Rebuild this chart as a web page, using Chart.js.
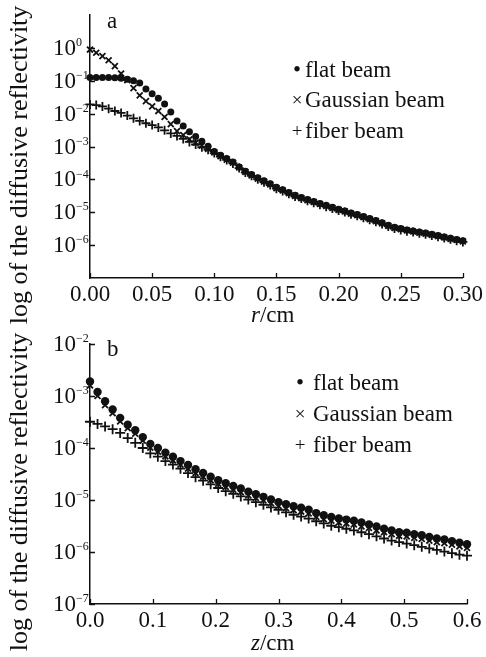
<!DOCTYPE html>
<html>
<head>
<meta charset="utf-8">
<script src="https://cdn.jsdelivr.net/npm/chart.js@4.4.0/dist/chart.umd.min.js"></script>
<style>
body { margin: 0; background: #fff; }
#wrap { position: relative; width: 486px; height: 657px; font-family: "Liberation Serif", serif; color: #111; overflow: hidden; }
canvas { position: absolute; left: 0; }
.t { position: absolute; font-size: 23px; line-height: 24px; white-space: nowrap; }
.mk { position: absolute; line-height: 24px; text-align: center; width: 14px; }
</style>
</head>
<body>
<div id="wrap">
  <canvas id="top" width="486" height="330" style="top:0"></canvas>
  <canvas id="bottom" width="486" height="327" style="top:330px"></canvas>
  <div class="t" style="left:107px;top:9px">a</div>
  <div class="t" style="left:107px;top:337px">b</div>
  <div class="t" style="left:251px;top:303px"><i>r</i>/cm</div>
  <div class="t" style="left:251px;top:631px"><i>z</i>/cm</div>
  <div id="legTop"></div>
  <div id="legBottom"></div>
</div>
<script>
// series names (same in both panels)
const seriesNames = ['flat beam', 'Gaussian beam', 'fiber beam']
const seriesMarks = ['\u2022', '\u00d7', '+']

// panel a: reflectivity vs r (cm)
const topR = [0, 0.005, 0.01, 0.015, 0.02, 0.025, 0.03, 0.035, 0.04, 0.045,
  0.05, 0.055, 0.06, 0.065, 0.07, 0.075, 0.08, 0.085, 0.09, 0.095,
  0.1, 0.105, 0.11, 0.115, 0.12, 0.125, 0.13, 0.135, 0.14, 0.145,
  0.15, 0.155, 0.16, 0.165, 0.17, 0.175, 0.18, 0.185, 0.19, 0.195,
  0.2, 0.205, 0.21, 0.215, 0.22, 0.225, 0.23, 0.235, 0.24, 0.245,
  0.25, 0.255, 0.26, 0.265, 0.27, 0.275, 0.28, 0.285, 0.29, 0.295, 0.3]
const topFlat = [1.26e-1, 1.26e-1, 1.25e-1, 1.25e-1, 1.23e-1, 1.20e-1, 1.12e-1, 1.0e-1, 8.5e-2, 5.6e-2,
  4.0e-2, 2.95e-2, 1.95e-2, 1.12e-2, 6.0e-3, 4.2e-3, 2.8e-3, 2.0e-3, 1.45e-3, 1.02e-3,
  7.1e-4, 5.4e-4, 4.3e-4, 3.4e-4, 2.4e-4, 1.78e-4, 1.41e-4, 1.12e-4, 9.1e-5, 7.4e-5,
  5.75e-5, 4.8e-5, 4.0e-5, 3.3e-5, 2.8e-5, 2.45e-5, 2.14e-5, 1.86e-5, 1.62e-5, 1.41e-5,
  1.23e-5, 1.10e-5, 9.5e-6, 8.5e-6, 7.4e-6, 6.5e-6, 5.6e-6, 4.8e-6, 4.0e-6, 3.5e-6,
  3.2e-6, 2.9e-6, 2.7e-6, 2.5e-6, 2.35e-6, 2.15e-6, 1.95e-6, 1.78e-6, 1.62e-6, 1.48e-6, 1.35e-6]
const topGauss = [8.9e-1, 7.1e-1, 5.6e-1, 4.2e-1, 2.8e-1, 1.66e-1, 1.05e-1, 6.0e-2, 3.6e-2, 2.4e-2,
  1.66e-2, 1.2e-2, 7.9e-3, 4.8e-3, 2.95e-3, 2.24e-3, 1.66e-3, 1.32e-3, 1.07e-3, 8.5e-4,
  6.6e-4, 5.1e-4, 4.0e-4, 3.2e-4, 2.3e-4, 1.70e-4, 1.33e-4, 1.06e-4, 8.6e-5, 7.0e-5,
  5.4e-5, 4.6e-5, 3.8e-5, 3.15e-5, 2.7e-5, 2.35e-5, 2.05e-5, 1.78e-5, 1.55e-5, 1.36e-5,
  1.18e-5, 1.06e-5, 9.1e-6, 8.2e-6, 7.1e-6, 6.2e-6, 5.4e-6, 4.6e-6, 3.85e-6, 3.35e-6,
  3.05e-6, 2.8e-6, 2.6e-6, 2.4e-6, 2.25e-6, 2.05e-6, 1.88e-6, 1.72e-6, 1.56e-6, 1.43e-6, 1.30e-6]
const topFiber = [1.9e-2, 1.82e-2, 1.66e-2, 1.41e-2, 1.2e-2, 1.05e-2, 8.7e-3, 7.2e-3, 6.0e-3, 5.1e-3,
  4.5e-3, 3.8e-3, 3.1e-3, 2.5e-3, 2.1e-3, 1.7e-3, 1.38e-3, 1.15e-3, 9.5e-4, 7.9e-4,
  6.3e-4, 4.9e-4, 3.9e-4, 3.05e-4, 2.2e-4, 1.62e-4, 1.28e-4, 1.01e-4, 8.2e-5, 6.7e-5,
  5.2e-5, 4.4e-5, 3.65e-5, 3.0e-5, 2.6e-5, 2.25e-5, 1.96e-5, 1.7e-5, 1.48e-5, 1.3e-5,
  1.13e-5, 1.01e-5, 8.7e-6, 7.8e-6, 6.8e-6, 5.9e-6, 5.1e-6, 4.4e-6, 3.7e-6, 3.2e-6,
  2.9e-6, 2.65e-6, 2.5e-6, 2.3e-6, 2.15e-6, 1.96e-6, 1.8e-6, 1.64e-6, 1.5e-6, 1.37e-6, 1.25e-6]
const topXTicks = [0, 0.05, 0.1, 0.15, 0.2, 0.25, 0.3]
const topYTicks = [1e0, 1e-1, 1e-2, 1e-3, 1e-4, 1e-5, 1e-6]

// panel b: reflectivity vs z (cm)
const botZ = [0, 0.012, 0.024, 0.036, 0.048, 0.06, 0.072, 0.084, 0.096, 0.108,
  0.12, 0.132, 0.144, 0.156, 0.168, 0.18, 0.192, 0.204, 0.216, 0.228,
  0.24, 0.252, 0.264, 0.276, 0.288, 0.3, 0.312, 0.324, 0.336, 0.348,
  0.36, 0.372, 0.384, 0.396, 0.408, 0.42, 0.432, 0.444, 0.456, 0.468,
  0.48, 0.492, 0.504, 0.516, 0.528, 0.54, 0.552, 0.564, 0.576, 0.588, 0.6]
const botFlat = [1.9e-3, 1.2e-3, 7.9e-4, 5.5e-4, 3.8e-4, 2.8e-4, 2.2e-4, 1.62e-4, 1.2e-4, 1.0e-4,
  8.1e-5, 6.8e-5, 5.6e-5, 4.7e-5, 3.9e-5, 3.3e-5, 2.8e-5, 2.4e-5, 2.1e-5, 1.86e-5,
  1.66e-5, 1.45e-5, 1.29e-5, 1.15e-5, 1.02e-5, 9.1e-6, 8.3e-6, 7.6e-6, 7.1e-6, 6.5e-6,
  5.6e-6, 5.1e-6, 4.7e-6, 4.4e-6, 4.2e-6, 4.0e-6, 3.7e-6, 3.4e-6, 3.1e-6, 2.8e-6,
  2.6e-6, 2.4e-6, 2.35e-6, 2.2e-6, 2.1e-6, 1.95e-6, 1.82e-6, 1.74e-6, 1.62e-6, 1.51e-6, 1.41e-6]
const botGauss = [1.6e-3, 1.0e-3, 6.7e-4, 4.7e-4, 3.25e-4, 2.4e-4, 1.88e-4, 1.38e-4, 1.02e-4, 8.5e-5,
  6.9e-5, 5.8e-5, 4.8e-5, 4.0e-5, 3.3e-5, 2.8e-5, 2.4e-5, 2.05e-5, 1.79e-5, 1.58e-5,
  1.41e-5, 1.23e-5, 1.1e-5, 9.8e-6, 8.7e-6, 7.7e-6, 7.0e-6, 6.4e-6, 6.0e-6, 5.5e-6,
  4.75e-6, 4.3e-6, 4.0e-6, 3.7e-6, 3.55e-6, 3.4e-6, 3.1e-6, 2.9e-6, 2.6e-6, 2.4e-6,
  2.2e-6, 2.05e-6, 2.0e-6, 1.87e-6, 1.78e-6, 1.65e-6, 1.55e-6, 1.48e-6, 1.38e-6, 1.28e-6, 1.2e-6]
const botFiber = [3.2e-4, 2.9e-4, 2.6e-4, 2.3e-4, 1.95e-4, 1.55e-4, 1.26e-4, 1.0e-4, 7.9e-5, 6.8e-5,
  5.6e-5, 4.8e-5, 4.0e-5, 3.3e-5, 2.75e-5, 2.35e-5, 2.0e-5, 1.7e-5, 1.48e-5, 1.32e-5,
  1.17e-5, 1.02e-5, 9.1e-6, 8.1e-6, 7.2e-6, 6.5e-6, 5.8e-6, 5.2e-6, 4.8e-6, 4.4e-6,
  3.9e-6, 3.55e-6, 3.2e-6, 3.0e-6, 2.8e-6, 2.6e-6, 2.4e-6, 2.2e-6, 2.0e-6, 1.82e-6,
  1.66e-6, 1.55e-6, 1.45e-6, 1.35e-6, 1.26e-6, 1.17e-6, 1.1e-6, 1.02e-6, 9.5e-7, 8.9e-7, 8.5e-7]
const botXTicks = [0, 0.1, 0.2, 0.3, 0.4, 0.5, 0.6]
const botYTicks = [1e-2, 1e-3, 1e-4, 1e-5, 1e-6, 1e-7]

const yTitle = 'log of the diffusive reflectivity'
const ink = '#111'
const serif = '"Liberation Serif", "Times New Roman", serif'

// inner tick marks, 10^n labels and the rotated y title
const axisDecor = {
  id: 'axisDecor',
  afterDraw(chart, args, opts) {
    const ctx = chart.ctx
    const xs = chart.scales.x, ys = chart.scales.y, a = chart.chartArea
    ctx.save()
    ctx.strokeStyle = ink
    ctx.lineWidth = 1.3
    ctx.beginPath()
    xs.ticks.forEach(t => {
      const px = Math.round(xs.getPixelForValue(t.value)) + 0.5
      ctx.moveTo(px, a.bottom)
      ctx.lineTo(px, a.bottom - 5)
    })
    opts.yTicks.forEach(v => {
      const py = Math.round(ys.getPixelForValue(v)) + 0.5
      ctx.moveTo(a.left, py)
      ctx.lineTo(a.left + 5, py)
    })
    ctx.stroke()

    ctx.fillStyle = ink
    ctx.textBaseline = 'middle'
    opts.yTicks.forEach(v => {
      const py = ys.getPixelForValue(v)
      const e = Math.round(Math.log10(v))
      ctx.font = '23px ' + serif
      ctx.textAlign = 'right'
      ctx.fillText('10', a.left - 14, py + 1)
      ctx.font = '12px ' + serif
      ctx.textAlign = 'left'
      ctx.fillText(e < 0 ? '\u2212' + (-e) : String(e), a.left - 14, py - 5)
    })

    ctx.translate(opts.titleX, opts.titleY)
    ctx.rotate(-Math.PI / 2)
    ctx.font = '26px ' + serif
    ctx.textAlign = 'center'
    ctx.fillText(yTitle, 0, 0)
    ctx.restore()
  }
}

function makePanel(id, xs, series, p) {
  const styles = ['circle', 'crossRot', 'cross']
  const datasets = series.map((vals, i) => ({
    label: seriesNames[i],
    data: xs.map((x, j) => ({ x: x, y: vals[j] })),
    pointStyle: styles[i],
    pointRadius: p.radius[i],
    pointBorderWidth: i == 0 ? 0 : 1.8,
    pointBackgroundColor: ink,
    pointBorderColor: ink,
    showLine: false,
    clip: false
  }))

  return new Chart(document.getElementById(id), {
    type: 'scatter',
    data: { datasets: datasets },
    options: {
      responsive: false,
      animation: false,
      events: [],
      layout: { padding: { top: p.top, right: p.right, left: 0, bottom: 0 } },
      plugins: {
        legend: { display: false },
        tooltip: { enabled: false },
        axisDecor: { yTicks: p.yTicks, titleX: 20, titleY: p.titleY }
      },
      scales: {
        x: {
          type: 'linear',
          min: p.xMin,
          max: p.xMax,
          afterBuildTicks: s => { s.ticks = p.xTicks.map(v => ({ value: v })) },
          afterFit: s => { s.height = p.xh },
          grid: { display: false, drawTicks: false },
          border: { display: true, color: ink, width: 1.5 },
          ticks: {
            color: ink,
            padding: 3,
            maxRotation: 0,
            autoSkip: false,
            font: { family: serif, size: 23 },
            callback: v => v.toFixed(p.digits)
          }
        },
        y: {
          type: 'logarithmic',
          min: p.yMin,
          max: p.yMax,
          afterFit: s => { s.width = 90 },
          grid: { display: false, drawTicks: false },
          border: { display: true, color: ink, width: 1.5 },
          ticks: { display: false }
        }
      }
    },
    plugins: [axisDecor]
  })
}

makePanel('top', topR, [topFlat, topGauss, topFiber], {
  xMin: 0, xMax: 0.3, xTicks: topXTicks, digits: 2,
  yMin: 1e-7, yMax: 1e1, yTicks: topYTicks,
  top: 15, right: 21, xh: 52, titleY: 165,
  radius: [3.5, 4.2, 4.5]
})

makePanel('bottom', botZ, [botFlat, botGauss, botFiber], {
  xMin: 0, xMax: 0.6, xTicks: botXTicks, digits: 1,
  yMin: 1e-7, yMax: 1e-2, yTicks: botYTicks,
  top: 14, right: 19, xh: 53, titleY: 162,
  radius: [4.2, 4.2, 5]
})

// legends drawn as text next to the plots
function legend(id, markX, textX, rows) {
  const el = document.getElementById(id)
  el.innerHTML = seriesNames.map((name, i) => {
    const size = i == 0 ? 23 : 19
    return `<div class="mk" style="left:${markX - 7}px;top:${rows[i] - 12}px;font-size:${size}px">${seriesMarks[i]}</div>` +
      `<div class="t" style="left:${textX}px;top:${rows[i] - 12}px">${name}</div>`
  }).join('')
}
legend('legTop', 297, 305, [70, 100, 131])
legend('legBottom', 300, 313, [383, 414, 445])
</script>
</body>
</html>
